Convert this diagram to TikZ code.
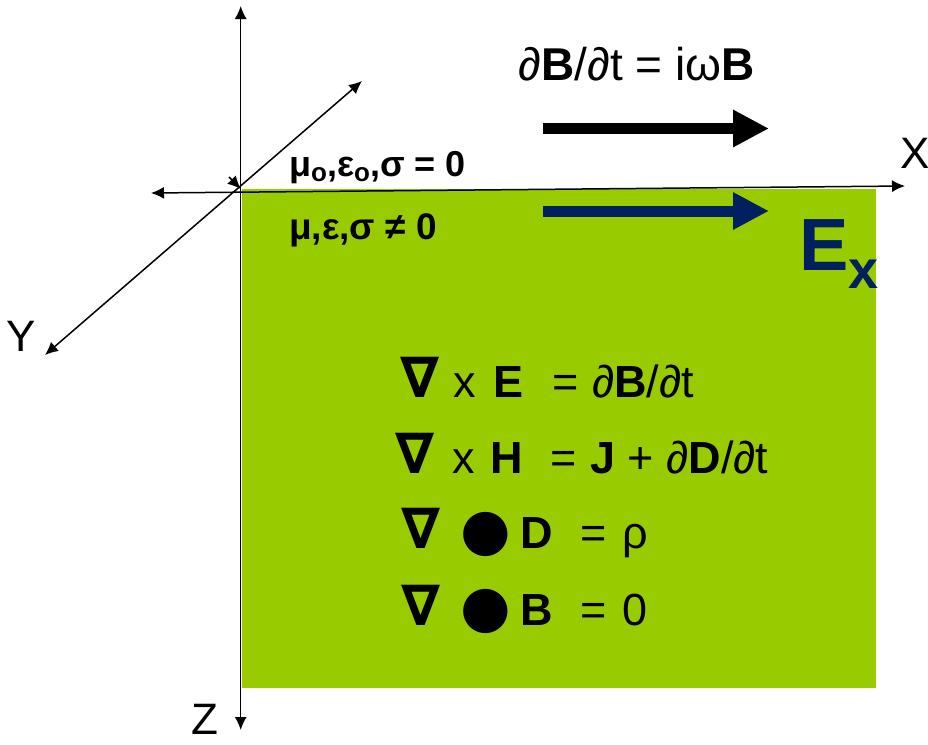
\documentclass[tikz,border=0pt]{standalone}
\usepackage{fontspec}
\setmainfont{Liberation Sans}
\newfontfamily\symfont{DejaVu Sans}
\usetikzlibrary{arrows.meta}
\definecolor{mediumcolor}{RGB}{153,204,0}
\definecolor{fieldcolor}{RGB}{0,32,96}
\tikzset{
  axis/.style={draw, line width=1.5pt, {Latex[length=13pt,width=12pt]}-{Latex[length=13pt,width=12pt]}},
  bigarrow/.style={line width=11pt, -{Triangle[length=36pt,width=35pt]}},
  axislabel/.style={anchor=base west, inner sep=0pt, font=\fontsize{44}{44}\selectfont},
  eqline/.style={anchor=base west, inner sep=0pt, font=\fontsize{45}{45}\selectfont},
  medium/.style={anchor=base west, inner sep=0pt, font=\bfseries}
}
\newcommand{\nablasign}{\makebox[0pt][l]{\symfont\bfseries\fontsize{56}{56}\selectfont ∇}}
\newcommand{\dotsign}{\raisebox{-1pt}{\symfont\fontsize{58}{58}\selectfont ●}}

\begin{document}
\begin{tikzpicture}[x=1pt, y=-1pt]
\useasboundingbox (0,0) rectangle (928,744);

\path[fill=mediumcolor]
  (242,189) coordinate (medium_topleft) rectangle (876,688) coordinate (medium_bottomright);

\coordinate (origin) at (240.7,189);
\coordinate (x_left) at (151,193);
\coordinate (x_right) at (905,186);
\coordinate (y_far) at (45,355);
\coordinate (y_near) at (362,81);
\coordinate (z_top) at (240.7,6);
\coordinate (z_bottom) at (240.7,730);
\coordinate (stray_start) at (229,177);

\path[axis] (z_top) -- (z_bottom);
\path[axis] (x_left) -- (x_right);
\path[axis] (y_far) -- (y_near);
\path[draw, line width=1.5pt, -{Latex[length=13pt,width=12pt]}] (stray_start) -- (origin);

\node[axislabel] (label_x) at (900,168) {X};
\node[axislabel] (label_y) at (6,351) {Y};
\node[axislabel] (label_z) at (191,734) {Z};

\node[anchor=base, inner sep=0pt, font=\fontsize{46}{46}\selectfont] (faraday) at (637,80)
  {∂\textbf{B}/∂t = iω\textbf{B}};

\coordinate (b_start) at (543,128.5);
\coordinate (b_end) at (769,128.5);
\coordinate (e_start) at (543,211);
\coordinate (e_end) at (769,211);
\path[draw, bigarrow] (b_start) -- (b_end);
\path[draw, bigarrow, fieldcolor] (e_start) -- (e_end);

\node[anchor=base west, inner sep=0pt, text=fieldcolor] (field_ex) at (799,270)
  {{\fontsize{74}{74}\selectfont\bfseries E}\raisebox{-18pt}{\fontsize{54}{54}\selectfont\bfseries x}};

\node[medium, font=\bfseries\fontsize{36}{36}\selectfont] (air) at (289,176)
  {μ\raisebox{-5pt}{\fontsize{26}{26}\selectfont o},ε\raisebox{-5pt}{\fontsize{26}{26}\selectfont o},σ = 0};
\node[medium, font=\bfseries\fontsize{37}{37}\selectfont] (ground) at (289,239)
  {μ,ε,σ ≠ 0};

\node[eqline] (curl_e) at (400,397)
  {\makebox[53pt][l]{\nablasign}\makebox[40pt][l]{x}\makebox[59pt][l]{\textbf{E}}\makebox[40pt][l]{=}∂\textbf{B}/∂t};
\node[eqline] (curl_h) at (395,473)
  {\makebox[57pt][l]{\nablasign}\makebox[38pt][l]{x}\makebox[60pt][l]{\textbf{H}}\makebox[40pt][l]{=}\textbf{J} + ∂\textbf{D}/∂t};
\node[eqline] (div_d) at (401,548)
  {\makebox[59pt][l]{\nablasign}\makebox[60pt][l]{\dotsign}\makebox[60pt][l]{\textbf{D}}\makebox[42pt][l]{=}ρ};
\node[eqline] (div_b) at (401,625)
  {\makebox[59pt][l]{\nablasign}\makebox[60pt][l]{\dotsign}\makebox[60pt][l]{\textbf{B}}\makebox[42pt][l]{=}0};

\end{tikzpicture}
\end{document}
